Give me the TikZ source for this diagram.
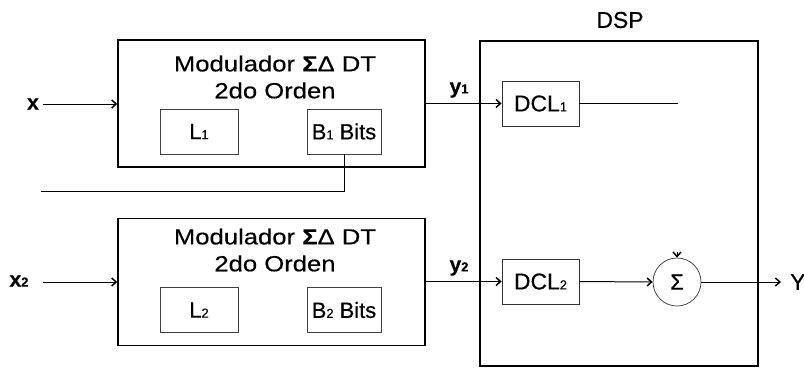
\documentclass[tikz,border=0pt]{standalone}
\usepackage{fontspec}
\setmainfont[FakeBold=0.4]{Liberation Sans}
\newfontfamily\widefont[FakeStretch=1.17,FakeBold=0.4]{Liberation Sans}
\usepackage{tikz}
\usetikzlibrary{positioning,arrows.meta}

\newcommand{\lowidx}[1]{{\fontsize{13}{13}\selectfont #1}}

\begin{document}
\begin{tikzpicture}[
  x=1bp, y=-1bp,
  mod/.style={draw, line width=1.4pt, minimum width=307bp, minimum height=127bp, inner sep=0pt},
  inbox/.style={draw=black!75, line width=0.7pt, minimum height=45bp, inner sep=0pt, font=\fontsize{22}{22}\selectfont},
  dsp/.style={draw, line width=1.3pt, minimum width=278bp, minimum height=325bp, inner sep=0pt},
  dcl/.style={draw=black!80, line width=0.8pt, minimum width=77bp, minimum height=45bp, inner sep=0pt, font=\fontsize{23}{23}\selectfont},
  sumc/.style={draw=black!80, circle, line width=0.7pt, minimum size=48bp, inner sep=0pt, font=\fontsize{22}{22}\selectfont},
  lbl/.style={font=\fontsize{21}{21}\selectfont\bfseries, inner sep=0pt},
  title/.style={align=center, font=\widefont\fontsize{22}{27}\selectfont, inner sep=0pt},
  arr/.style={-{Straight Barb[length=4.5pt, width=8pt, line width=1.5pt]}, line width=1pt},
  line/.style={line width=1pt},
]
\useasboundingbox (0,0) rectangle (804,368);

% Modulators
\node[mod] (mod1) at (271.5,103.5) {};
\node[title] (t1) at (275,77) {Modulador \textbf{Σ}Δ DT\\2do Orden};
\node[inbox, minimum width=78bp] (l1) at (199,131.5) {L\lowidx{1}};
\node[inbox, minimum width=74bp] (b1) at (344,131.5) {B\lowidx{1} Bits};

\node[mod] (mod2) at (271.5,282) {};
\node[title] (t2) at (275,250) {Modulador \textbf{Σ}Δ DT\\2do Orden};
\node[inbox, minimum width=78bp] (l2) at (199,310) {L\lowidx{2}};
\node[inbox, minimum width=74bp] (b2) at (344,310) {B\lowidx{2} Bits};

% DSP
\node[dsp] (dsp) at (619,203.5) {};
\node[font=\fontsize{23}{23}\selectfont, inner sep=0pt] (dsplbl) at (620,20) {DSP};
\node[dcl] (dcl1) at (540.5,103.5) {DCL\lowidx{1}};
\node[dcl] (dcl2) at (540.5,281.5) {DCL\lowidx{2}};
\node[sumc] (sum) at (677,282) {Σ};

% Labels
\node[lbl] (xa) at (33,104) {x};
\node[lbl] (xb) at (19,281) {x\lowidx{2}};
\node[lbl] (ya) at (459,90) {y\lowidx{1}};
\node[lbl] (yb) at (459,268) {y\lowidx{2}};
\node[font=\fontsize{23}{23}\selectfont, inner ysep=0pt, inner xsep=9bp, anchor=west] (yout) at (781,282) {Y};

% Free ends
\coordinate (xin) at (43,104);
\coordinate (x2in) at (43,282);
\coordinate (fb) at (41,191);
\coordinate (d1end) at (678,103.5);

% Inputs
\draw[arr] (xin) -- (xin -| mod1.west);
\draw[arr] (x2in) -- (x2in -| mod2.west);

% Feedback from B1
\draw[line] (b1.south) |- (fb);

% Outputs to DSP
\draw[arr] (mod1.east |- dcl1.west) -- (dcl1.west);
\draw[arr] (mod2.east |- dcl2.west) -- (dcl2.west);

% Inside DSP
\draw[line] (dcl1.east) -- (d1end);
\draw[arr] (dcl2.east) -- (sum.west);
\draw[arr] ([yshift=6pt]sum.north) -- (sum.north);
\draw[arr] (sum.east) -- (yout.west);
\end{tikzpicture}
\end{document}
